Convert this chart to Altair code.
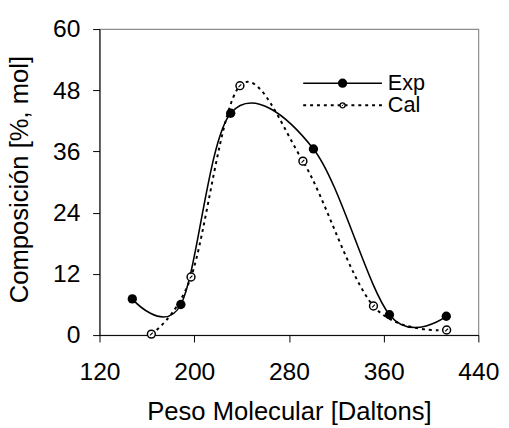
import altair as alt
import pandas as pd

# Data
exp_x = [147.7, 188.7, 230.8, 300.7, 364.9, 412.9]
exp_y = [7.1, 6.0, 43.5, 36.5, 4.0, 3.7]
cal_x = [163.8, 197.3, 238.6, 291.8, 351.4, 413.2]
cal_y = [0.2, 11.4, 48.9, 34.1, 5.7, 1.0]
series_names = ["Exp", "Cal"]
x_ticks = [120, 200, 280, 360, 440]
y_ticks = [0, 12, 24, 36, 48, 60]

FONT = "Liberation Sans"
W, H = 385, 311

exp_df = pd.DataFrame({"x": exp_x, "y": exp_y})
cal_df = pd.DataFrame({"x": cal_x, "y": cal_y})

xs = alt.Scale(domain=[120, 440], nice=False, zero=False)
ys = alt.Scale(domain=[0, 60], nice=False)

x_axis = alt.Axis(values=x_ticks, title="Peso Molecular [Daltons]", grid=False,
                  tickSize=7, labelPadding=18, labelFontSize=25, titleFontSize=26,
                  titleFontWeight="normal", titleY=86, titleBaseline="alphabetic",
                  labelFont=FONT, titleFont=FONT, domainColor="black", tickColor="black",
                  labelColor="black", titleColor="black", labelFlush=False)
y_axis = alt.Axis(values=y_ticks, title="Composición [%, mol]", grid=False,
                  tickSize=7, labelPadding=13, labelFontSize=25, titleFontSize=26,
                  titleFontWeight="normal", titleX=-73, titleY=152.5, titleAngle=270,
                  titleBaseline="alphabetic", titleAlign="center",
                  labelFont=FONT, titleFont=FONT, domainColor="black", tickColor="black",
                  labelColor="black", titleColor="black", labelFlush=False)

X = alt.X("x:Q", scale=xs, axis=x_axis)
Y = alt.Y("y:Q", scale=ys, axis=y_axis)

exp_line = alt.Chart(exp_df).mark_line(interpolate="catmull-rom", tension=0, color="black",
                                       strokeWidth=1.6).encode(x=X, y=Y)
cal_line = alt.Chart(cal_df).mark_line(interpolate="catmull-rom", tension=0, color="black",
                                       strokeWidth=2, strokeDash=[3, 4]).encode(x=X, y=Y)
cal_pts = alt.Chart(cal_df).mark_point(shape="circle", filled=True, fill="white",
                                       stroke="black", strokeWidth=1.5, size=64,
                                       opacity=1).encode(x=X, y=Y)
cal_slash = alt.Chart(cal_df).mark_point(shape="M-0.35,0.35L0.35,-0.35", stroke="black",
                                         strokeWidth=1.2, size=64, opacity=1).encode(x=X, y=Y)
exp_pts = alt.Chart(exp_df).mark_circle(size=90, color="black", opacity=1).encode(x=X, y=Y)

# Legend (drawn inside the plot area)
leg_exp = alt.Data(values=[{"label": series_names[0]}])
leg_cal = alt.Data(values=[{"label": series_names[1]}])
ey, cy = 55, 77.5
lx1, lx2, lxc, ltx = 207, 287, 247, 293

l1 = alt.Chart(leg_exp).mark_rule(color="black", strokeWidth=1.6).encode(
    x=alt.value(lx1), x2=alt.value(lx2), y=alt.value(ey))
l2 = alt.Chart(leg_exp).mark_circle(size=90, color="black", opacity=1).encode(
    x=alt.value(lxc), y=alt.value(ey))
l3 = alt.Chart(leg_exp).mark_text(align="left", baseline="middle", fontSize=22, font=FONT,
                                  color="black").encode(
    x=alt.value(ltx), y=alt.value(ey), text="label:N")
l4 = alt.Chart(leg_cal).mark_rule(color="black", strokeWidth=2, strokeDash=[3, 4]).encode(
    x=alt.value(lx1), x2=alt.value(lx2), y=alt.value(cy))
l5 = alt.Chart(leg_cal).mark_point(shape="circle", filled=True, fill="white", stroke="black",
                                   strokeWidth=1.3, size=26, opacity=1).encode(
    x=alt.value(lxc), y=alt.value(cy))
l6 = alt.Chart(leg_cal).mark_point(shape="M-0.35,0.35L0.35,-0.35", stroke="black",
                                   strokeWidth=1, size=26, opacity=1).encode(
    x=alt.value(lxc), y=alt.value(cy))
l7 = alt.Chart(leg_cal).mark_text(align="left", baseline="middle", fontSize=22, font=FONT,
                                  color="black").encode(
    x=alt.value(ltx), y=alt.value(cy), text="label:N")

chart = alt.layer(exp_line, cal_line, cal_pts, cal_slash, exp_pts,
                  l1, l2, l3, l4, l5, l6, l7).properties(
    width=W, height=H,
    autosize=alt.AutoSizeParams(type="none"),
    padding={"left": 93, "top": 18, "right": 23, "bottom": 91},
    background="white",
).configure_view(stroke="#8c8c8c", strokeWidth=1.2)

chart.save("out.html", embed_options={"renderer": "svg", "actions": False})
